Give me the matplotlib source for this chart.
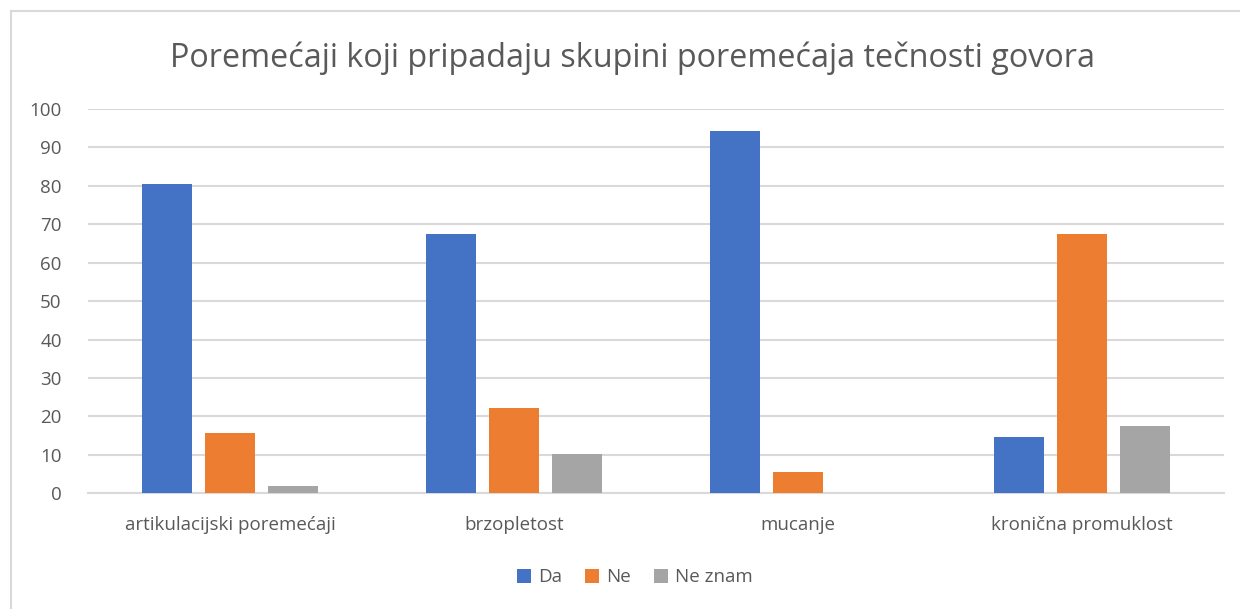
import matplotlib as mpl
mpl.use('Agg')
import matplotlib.pyplot as plt
from matplotlib.lines import Line2D
import numpy as np

plt.rcParams['font.family'] = ['Open Sans', 'DejaVu Sans']

categories = ['artikulacijski poremećaji', 'brzopletost', 'mucanje', 'kronična promuklost']
da = [80.4, 67.5, 94.3, 14.7]
ne = [15.6, 22.1, 5.5, 67.5]
ne_znam = [1.9, 10.1, 0, 17.5]
series = ['Da', 'Ne', 'Ne znam']
colors = ['#4472C4', '#ED7D31', '#A5A5A5']

fig = plt.figure(figsize=(12.4, 6.09), dpi=100)
ax = fig.add_axes([0.071, 0.19, 0.916, 0.631])

x = np.arange(len(categories))
w = 0.176
step = 0.222
for i, (vals, name, c) in enumerate(zip([da, ne, ne_znam], series, colors)):
    ax.bar(x + (i - 1) * step, vals, width=w, color=c, label=name, zorder=3)

ax.set_xlim(-0.5, len(categories) - 0.5)
ax.set_ylim(0, 100)
ax.set_yticks(np.arange(0, 101, 10))
ax.set_xticks(x)
ax.set_xticklabels(categories)
ax.grid(axis='y', color='#d9d9d9', linewidth=1.5, zorder=0)
for s in ['top', 'right', 'left']:
    ax.spines[s].set_visible(False)
ax.spines['bottom'].set_color('#d9d9d9')
ax.spines['bottom'].set_linewidth(1.5)
ax.tick_params(axis='both', length=0, labelsize=13.5, colors='#595959')
ax.tick_params(axis='x', pad=16)
ax.tick_params(axis='y', pad=19)

fig.text(0.51, 0.905, 'Poremećaji koji pripadaju skupini poremećaja tečnosti govora',
         ha='center', va='center', fontsize=23.3, color='#595959')

ax.legend(loc='center', bbox_to_anchor=(0.512, 0.052), bbox_transform=fig.transFigure,
          ncol=3, frameon=False, fontsize=13.5, labelcolor='#595959',
          handlelength=0.75, handleheight=0.75, handletextpad=0.4, columnspacing=1.2)

# chart border (only top and left visible)
fig.add_artist(Line2D([11 / 1240, 11 / 1240], [0, 1 - 11 / 609], color='#d9d9d9', lw=1.5))
fig.add_artist(Line2D([11 / 1240, 1], [1 - 11 / 609, 1 - 11 / 609], color='#d9d9d9', lw=1.5))

fig.savefig('out.png', dpi=100)
